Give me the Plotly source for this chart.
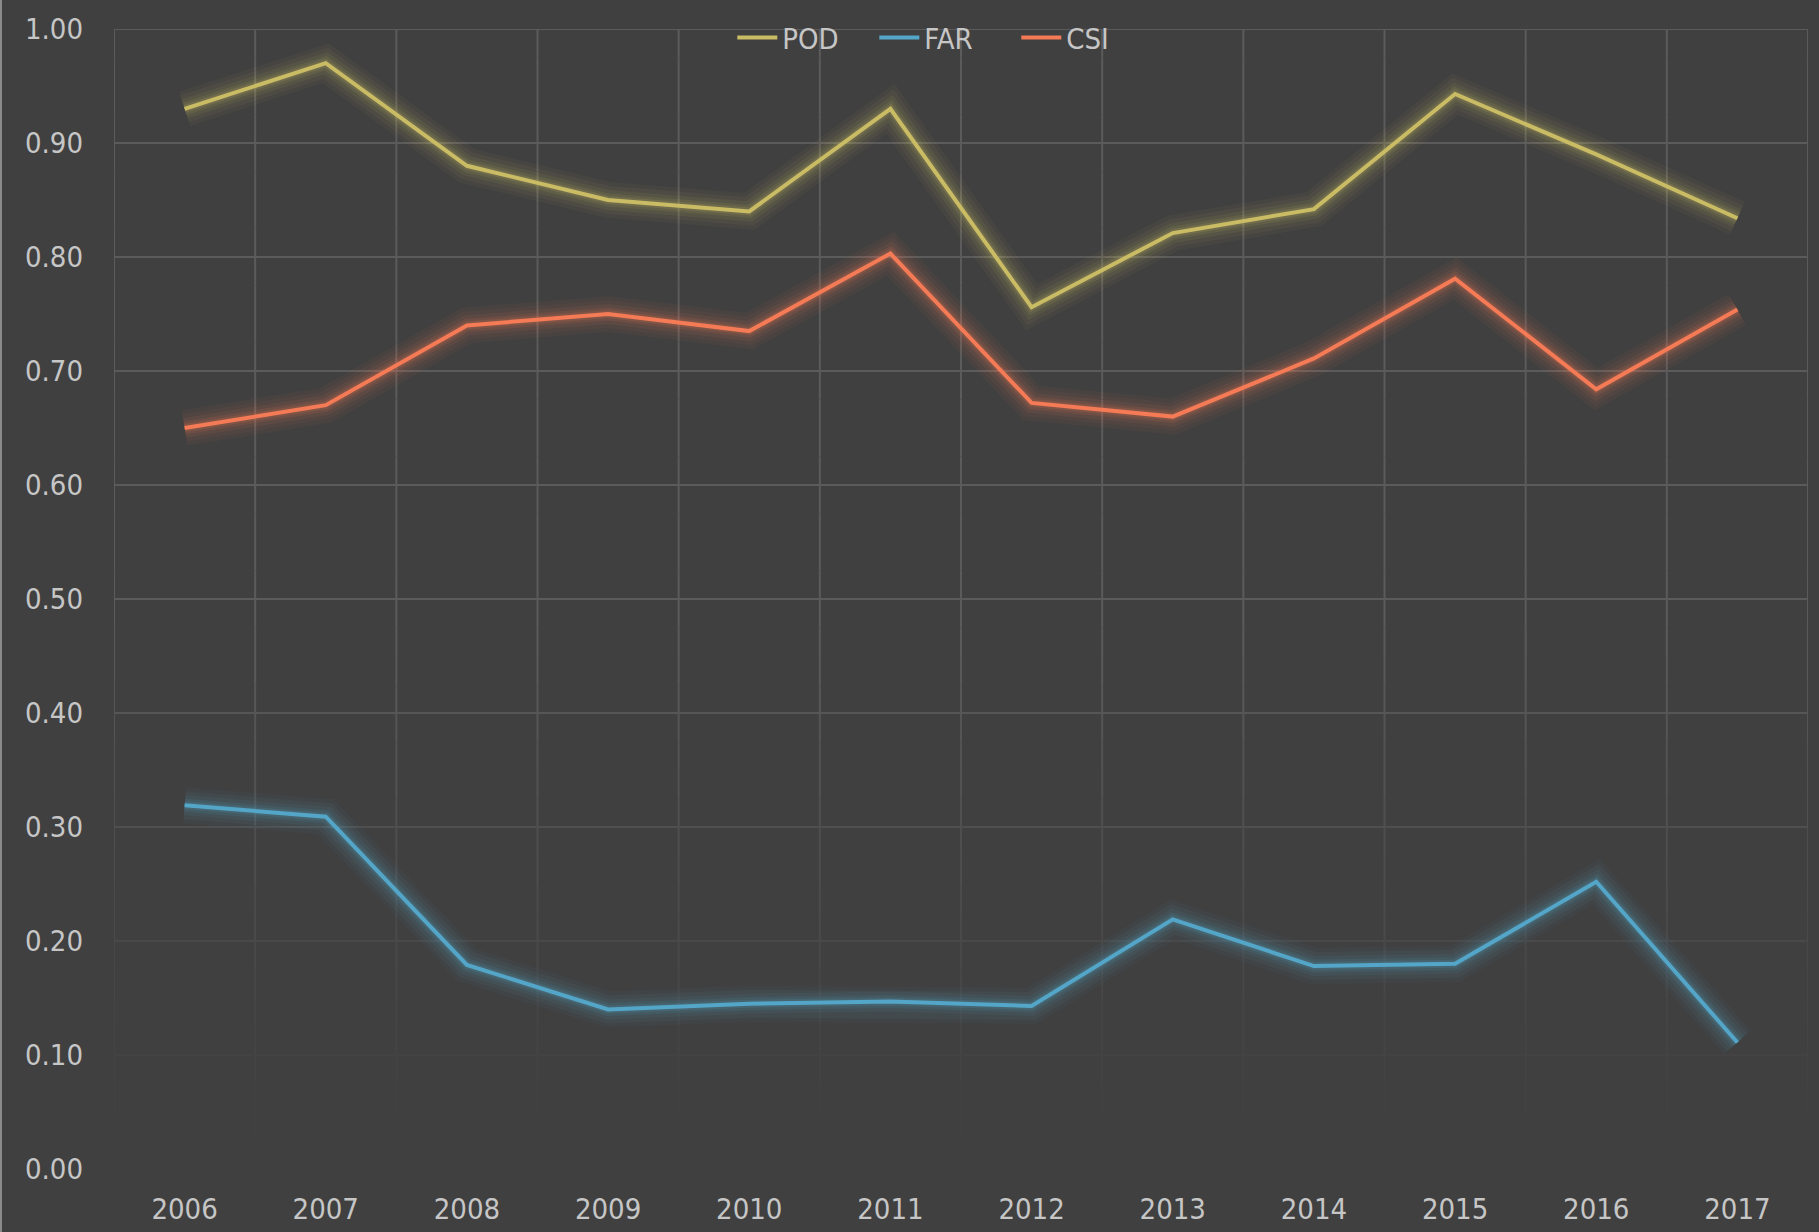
import plotly.graph_objects as go

years = ["2006", "2007", "2008", "2009", "2010", "2011", "2012", "2013", "2014", "2015", "2016", "2017"]
pod = [0.930, 0.970, 0.880, 0.850, 0.840, 0.930, 0.756, 0.821, 0.842, 0.943, 0.890, 0.834]
far = [0.319, 0.309, 0.179, 0.140, 0.145, 0.147, 0.143, 0.219, 0.178, 0.180, 0.252, 0.111]
csi = [0.650, 0.670, 0.740, 0.750, 0.735, 0.803, 0.672, 0.660, 0.711, 0.781, 0.684, 0.754]

series = [("POD", pod, (201, 188, 100)), ("FAR", far, (84, 166, 200)), ("CSI", csi, (245, 122, 86))]
ytick_vals = [0.0, 0.1, 0.2, 0.3, 0.4, 0.5, 0.6, 0.7, 0.8, 0.9, 1.0]

BG = "#404040"
TXT = "#c6c6c6"
FONT = "DejaVu Sans Condensed, DejaVu Sans, sans-serif"
FS = 29

fig = go.Figure()


def grid_col(y):
    f = min(max((y - 0.02) / 0.45, 0.0), 1.0) ** 1.2
    g = int(round(64 + 27 * f))
    return f"rgb({g},{g},{g})", f


# gridlines fading toward the bottom (drawn below the traces)
nseg = 40
for i in range(len(years) + 1):
    xb = i - 0.5
    for k in range(nseg):
        y0 = k / nseg
        y1 = (k + 1) / nseg
        col, f = grid_col((y0 + y1) / 2)
        if f <= 0:
            continue
        fig.add_shape(type="line", xref="x", yref="y", x0=xb, x1=xb, y0=y0, y1=y1,
                      line=dict(color=col, width=2), layer="below")
for v in ytick_vals:
    col, f = grid_col(v)
    if f <= 0:
        continue
    fig.add_shape(type="line", xref="x", yref="y", x0=-0.5, x1=len(years) - 0.5, y0=v, y1=v,
                  line=dict(color=col, width=2), layer="below")

# glow layers
for name, vals, (r, g, b) in series:
    for w, a in [(36, 0.045), (28, 0.06), (20, 0.08), (13, 0.11), (8, 0.15)]:
        fig.add_trace(go.Scatter(
            x=years, y=vals, mode="lines", showlegend=False, hoverinfo="skip",
            line=dict(color=f"rgba({r},{g},{b},{a})", width=w),
        ))

for name, vals, (r, g, b) in series:
    fig.add_trace(go.Scatter(
        x=years, y=vals, mode="lines", name=name,
        line=dict(color=f"rgb({r},{g},{b})", width=4),
    ))

# light left border of the chart area
fig.add_shape(type="line", xref="paper", yref="paper", x0=-113 / 1693.5, x1=-113 / 1693.5,
              y0=-63 / 1140, y1=1 + 29 / 1140, line=dict(color="#8c8c8c", width=2), layer="above")

fig.update_layout(
    width=1819, height=1232,
    paper_bgcolor=BG, plot_bgcolor=BG,
    margin=dict(l=114, r=11, t=29, b=63, autoexpand=False),
    font=dict(family=FONT, size=FS, color=TXT),
    showlegend=True,
    legend=dict(orientation="h", x=0.365, xanchor="left", y=0.9924, yanchor="middle",
                bgcolor="rgba(0,0,0,0)", font=dict(family=FONT, size=FS, color=TXT),
                entrywidth=87, entrywidthmode="pixels", itemwidth=40),
    xaxis=dict(type="category", range=[-0.5, 11.5], showgrid=False, automargin=False,
               ticks="", showline=False, zeroline=False,
               tickfont=dict(family=FONT, size=FS, color=TXT), ticklabelstandoff=20),
    yaxis=dict(range=[0, 1.0], tickvals=ytick_vals, tickformat=".2f", automargin=False,
               showgrid=False, ticks="", showline=False, zeroline=False,
               tickfont=dict(family=FONT, size=FS, color=TXT), ticklabelstandoff=30),
)

fig.write_html("out.html", config={"displayModeBar": False},
               post_script="document.body.style.margin='0';document.body.style.background='#404040';")
